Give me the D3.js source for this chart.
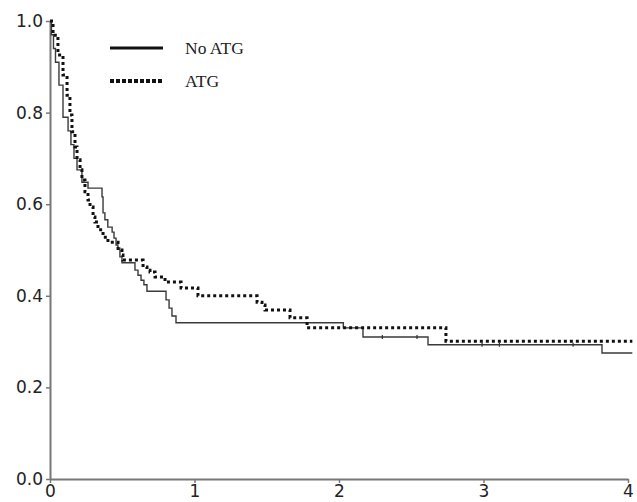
<!DOCTYPE html>
<html>
<head>
<meta charset="utf-8">
<script src="https://cdn.jsdelivr.net/npm/d3@7"></script>
<style>
  body { margin: 0; background: #fff; }
</style>
</head>
<body>
<div id="chart"></div>
<script>

// No ATG curve: step times (years) and survival after each step
const timeNoATG = [0, 0.01, 0.024, 0.038, 0.062, 0.09, 0.125, 0.145, 0.166, 0.187, 0.221, 0.263,
  0.36, 0.367, 0.38, 0.40, 0.43, 0.443, 0.457, 0.47, 0.484, 0.498, 0.588, 0.609, 0.63, 0.65, 0.671,
  0.803, 0.824, 0.844, 0.872, 2.03, 2.166, 2.616, 3.82, 4.03];
const survNoATG = [1.0, 0.97, 0.94, 0.91, 0.86, 0.79, 0.76, 0.73, 0.70, 0.675, 0.648, 0.635,
  0.616, 0.581, 0.566, 0.55, 0.539, 0.526, 0.511, 0.504, 0.485, 0.472, 0.456, 0.445, 0.434, 0.424, 0.41,
  0.391, 0.373, 0.356, 0.341, 0.33, 0.31, 0.293, 0.275, 0.275];
const censorNoATG = [2.30, 2.54, 2.99, 3.11, 3.62];

// ATG curve
const timeATG = [0, 0.021, 0.055, 0.09, 0.118, 0.138, 0.152, 0.173, 0.187, 0.208, 0.221, 0.242, 0.263,
  0.277, 0.298, 0.311, 0.332, 0.367, 0.401, 0.471, 0.498, 0.505, 0.644, 0.671, 0.692, 0.727, 0.796,
  0.907, 1.024, 1.433, 1.467, 1.488, 1.661, 1.779, 2.74, 4.03];
const survATG = [1.0, 0.969, 0.926, 0.882, 0.838, 0.795, 0.758, 0.725, 0.697, 0.675, 0.653, 0.627, 0.609,
  0.594, 0.572, 0.561, 0.544, 0.528, 0.517, 0.50, 0.489, 0.478, 0.463, 0.456, 0.452, 0.441, 0.43,
  0.417, 0.40, 0.386, 0.38, 0.369, 0.352, 0.33, 0.301, 0.301];

const xTicks = [0, 1, 2, 3, 4];
const yTicks = [0, 0.2, 0.4, 0.6, 0.8, 1.0];
const seriesNames = ["No ATG", "ATG"];

const width = 637, height = 502;

const svg = d3.select("#chart").append("svg")
  .attr("width", width)
  .attr("height", height)
  .style("background", "#fff");

const x = d3.scaleLinear().domain([0, 4]).range([50, 628]);
const y = d3.scaleLinear().domain([0, 1]).range([479, 21]);

// axes
const xAxis = svg.append("g")
  .attr("transform", "translate(0," + y(0) + ")")
  .call(d3.axisBottom(x).tickValues(xTicks).tickFormat(d3.format("d")).tickSize(4).tickSizeOuter(0).tickPadding(2));
const yAxis = svg.append("g")
  .attr("transform", "translate(" + x(0) + ",0)")
  .call(d3.axisLeft(y).tickValues(yTicks).tickFormat(d3.format(".1f")).tickSize(4).tickSizeOuter(0).tickPadding(3));

[xAxis, yAxis].forEach(function (g) {
  g.select(".domain").attr("stroke", "#777").attr("stroke-width", 2);
  g.selectAll(".tick line").attr("stroke", "#777").attr("stroke-width", 1.5);
  g.selectAll(".tick text")
    .attr("fill", "#222")
    .style("font-family", "'DejaVu Sans', sans-serif")
    .style("font-size", "17px");
});

// curves
const line = d3.line()
  .x(d => x(d[0]))
  .y(d => y(d[1]))
  .curve(d3.curveStepAfter);

const noATG = timeNoATG.map((t, i) => [t, survNoATG[i]]);
const atg = timeATG.map((t, i) => [t, survATG[i]]);

svg.append("path")
  .datum(noATG)
  .attr("fill", "none")
  .attr("stroke", "#3a3a3a")
  .attr("stroke-width", 1.4)
  .attr("d", line);

svg.append("path")
  .datum(atg)
  .attr("fill", "none")
  .attr("stroke", "#111")
  .attr("stroke-width", 3)
  .attr("stroke-dasharray", "3,3")
  .attr("d", line);

// censor marks on No ATG
function survAt(t) {
  let s = survNoATG[0];
  for (let i = 0; i < timeNoATG.length; i++) if (timeNoATG[i] <= t) s = survNoATG[i];
  return s;
}
svg.selectAll(".censor")
  .data(censorNoATG)
  .join("line")
  .attr("x1", d => x(d)).attr("x2", d => x(d))
  .attr("y1", d => y(survAt(d)) - 2).attr("y2", d => y(survAt(d)) + 2)
  .attr("stroke", "#333")
  .attr("stroke-width", 1.2);

// legend
const legend = svg.append("g");
seriesNames.forEach(function (name, i) {
  const ly = 48 + i * 33;
  legend.append("line")
    .attr("x1", 110).attr("x2", 163)
    .attr("y1", ly).attr("y2", ly)
    .attr("stroke", "#111")
    .attr("stroke-width", i === 0 ? 3 : 4)
    .attr("stroke-dasharray", i === 0 ? null : "4,2");
  legend.append("text")
    .attr("x", 185).attr("y", ly)
    .attr("dy", "0.35em")
    .style("font-family", "'Liberation Serif', 'Times New Roman', serif")
    .style("font-size", "17.5px")
    .attr("fill", "#222")
    .text(name);
});

</script>
</body>
</html>
